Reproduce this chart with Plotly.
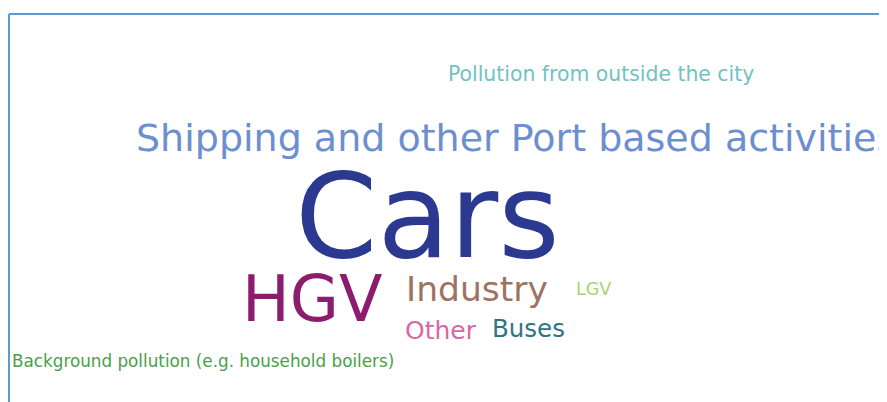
import plotly.graph_objects as go

# Word cloud data
words = [
    "Cars",
    "Shipping and other Port based activities",
    "HGV",
    "Industry",
    "Buses",
    "Other",
    "Pollution from outside the city",
    "Background pollution (e.g. household boilers)",
    "LGV",
]
weights = [118, 38, 63.5, 34.5, 24.5, 25, 20.4, 16.8, 17.5]  # relative prominence

# Layout of the cloud (left edge x, vertical centre y, in window pixels)
pos_x = [293, 134, 240, 404, 490, 403, 446, 10, 574]
pos_y = [216, 138, 299, 289, 328, 330, 74, 361, 289]
colors = ["#2b3990", "#6d8fd0", "#8b1c6e", "#9e7360", "#2f7585",
          "#d966a8", "#72c2c4", "#4aa04a", "#a3d477"]

OFF = 8  # page body margin
WIN_W, WIN_H = 887, 402
W, H = WIN_W - OFF, WIN_H - OFF
fig = go.Figure()

annotations = []
for w, s, x, y, c in zip(words, weights, pos_x, pos_y, colors):
    annotations.append(dict(
        x=x, y=y, xref="x", yref="y", text=w, showarrow=False,
        xanchor="left", yanchor="middle",
        font=dict(family="DejaVu Sans, Arial, sans-serif", size=s, color=c),
    ))

fig.add_trace(go.Scatter(x=[OFF, WIN_W], y=[OFF, WIN_H], mode="markers",
                         marker=dict(opacity=0), hoverinfo="skip", showlegend=False))

fig.update_layout(
    width=W, height=H,
    margin=dict(l=0, r=0, t=0, b=0),
    paper_bgcolor="white", plot_bgcolor="white",
    xaxis=dict(range=[OFF, WIN_W], visible=False, fixedrange=True),
    yaxis=dict(range=[WIN_H, OFF], visible=False, fixedrange=True),
    annotations=annotations,
    shapes=[
        dict(type="line", xref="x", yref="y", x0=9, x1=WIN_W + 5, y0=14, y1=14,
             line=dict(color="#5b9bd5", width=2)),
        dict(type="line", xref="x", yref="y", x0=9, x1=9, y0=14, y1=WIN_H + 5,
             line=dict(color="#5b9bd5", width=2)),
    ],
)

fig.write_html("out.html")
